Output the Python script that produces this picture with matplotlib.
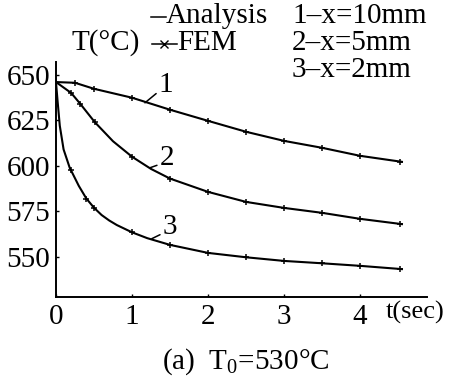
import matplotlib
matplotlib.use("Agg")
import matplotlib.pyplot as plt
from matplotlib.lines import Line2D

plt.rcParams['font.family'] = ['Liberation Serif', 'DejaVu Serif']
plt.rcParams['mathtext.fontset'] = 'custom'
plt.rcParams['mathtext.rm'] = 'Liberation Serif'

# analysis curves (t in sec, T in deg C)
t1 = [0, 0.25, 0.5, 1.0, 1.5, 2.0, 2.5, 3.0, 3.5, 4.0, 4.55]
T1 = [646, 645.6, 642.3, 637.4, 630.8, 624.7, 618.7, 613.7, 609.9, 605.5, 602.2]

t2 = [0, 0.1, 0.2, 0.32, 0.51, 0.75, 1.0, 1.25, 1.5, 2.0, 2.5, 3.0, 3.5, 4.0, 4.55]
T2 = [646, 643, 640, 634, 624, 613.5, 605, 598.3, 593, 585.7, 580.2, 576.9, 574.2, 570.9, 568]

t3 = [0, 0.02, 0.05, 0.1, 0.18, 0.3, 0.4, 0.5, 0.6, 0.7, 0.8, 1.0, 1.2, 1.5, 2.0,
      2.5, 3.0, 3.5, 4.0, 4.55]
T3 = [646, 636, 622, 609, 599, 589, 582, 577, 573, 570, 567.5, 563.5, 560.3, 556.6,
      552.2, 549.8, 547.8, 546.5, 545.1, 543.3]

# FEM points
f1_t = [0.25, 0.5, 1.0, 1.5, 2.0, 2.5, 3.0, 3.5, 4.0, 4.53]
f1_T = [645.6, 642.3, 637.4, 630.8, 624.7, 618.7, 613.7, 609.9, 605.5, 602.3]
f2_t = [0.2, 0.32, 0.51, 1.0, 1.5, 2.0, 2.5, 3.0, 3.5, 4.0, 4.53]
f2_T = [640, 634, 624, 605, 593, 585.7, 580.2, 576.9, 574.2, 570.9, 568.1]
f3_t = [0.2, 0.4, 0.5, 1.0, 1.5, 2.0, 2.5, 3.0, 3.5, 4.0, 4.53]
f3_T = [597.5, 582, 577, 563.5, 556.6, 552.2, 549.8, 547.8, 546.5, 545.1, 543.4]

xticks = [0, 1, 2, 3, 4]
yticks = [550, 575, 600, 625, 650]

fs = 21
fig = plt.figure(figsize=(4.49, 3.84), dpi=100)
ax = fig.add_axes([0.1247, 0.2266, 0.951 - 0.1247, 0.8385 - 0.2266])

for t, T in [(t1, T1), (t2, T2), (t3, T3)]:
    ax.plot(t, T, color='black', lw=1.5)
for t, T in [(f1_t, f1_T), (f2_t, f2_T), (f3_t, f3_T)]:
    ax.plot(t, T, ls='none', marker='+', ms=5, mew=1.1, color='black')

ax.set_xlim(0, 4.88)
ax.set_ylim(528, 657)
ax.set_xticks(xticks)
ax.set_yticks(yticks)
ax.tick_params(direction='in', length=2, width=1, labelsize=fs)
ax.tick_params(axis='x', pad=5)
ax.tick_params(axis='y', pad=4)
for s in ['top', 'right']:
    ax.spines[s].set_visible(False)
for s in ['left', 'bottom']:
    ax.spines[s].set_linewidth(1.4)

# curve labels with leader lines
labels = [("1", (1.17, 634.6), (1.45, 644.5)),
          ("2", (1.24, 599.0), (1.46, 604.4)),
          ("3", (1.26, 560.0), (1.50, 566.5))]
for txt, xy, xyt in labels:
    ax.annotate(txt, xy=xy, xytext=xyt, fontsize=fs, ha='center', va='center',
                arrowprops=dict(arrowstyle='-', lw=1.1, color='black',
                                shrinkA=0, shrinkB=0, relpos=(0.0, 0.25)))

# legend and axis titles as text
def fx(px):
    return px / 449.0

def fy(py):
    return 1 - py / 384.0

fig.add_artist(Line2D([fx(151), fx(166)], [fy(17)] * 2, color='black', lw=1.1))
fig.text(fx(166), fy(16), "Analysis", fontsize=fs, va='center', ha='left')
fig.add_artist(Line2D([fx(152), fx(164), fx(177)], [fy(44)] * 3, color='black',
                      lw=1.1, marker='x', ms=6, markevery=[1]))
fig.text(fx(177), fy(43), "FEM", fontsize=fs, va='center', ha='left')
fig.text(fx(71), fy(43), "T(\u00b0C)", fontsize=fs, va='center', ha='left')
fig.text(fx(292), fy(16), "1\u2013x=10mm", fontsize=fs, va='center', ha='left')
fig.text(fx(292), fy(43), "2\u2013x=5mm", fontsize=fs, va='center', ha='left')
fig.text(fx(292), fy(70), "3\u2013x=2mm", fontsize=fs, va='center', ha='left')
fig.text(fx(386), fy(312), "t(sec)", fontsize=19, va='center', ha='left')
fig.text(fx(246), fy(362), "(a)  T$_0$=530\u00b0C", fontsize=fs, va='center', ha='center')

fig.savefig("out.png", dpi=100)
